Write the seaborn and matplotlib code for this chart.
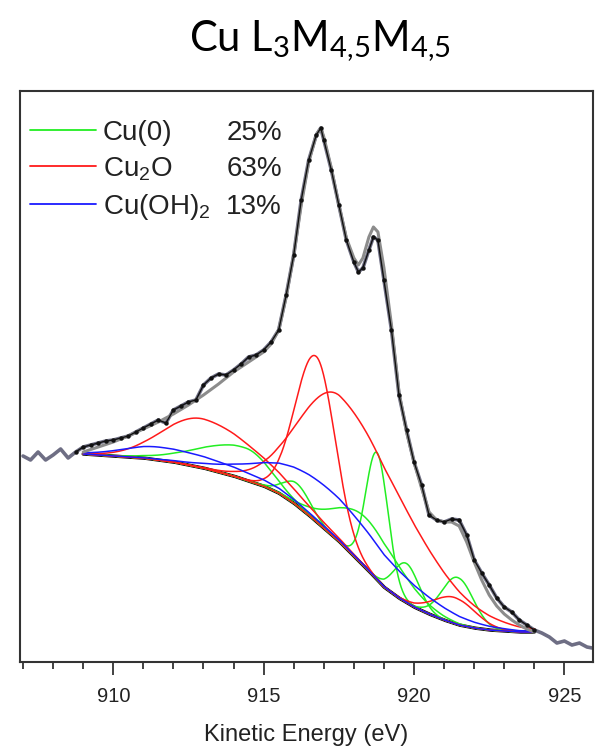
import numpy as np
import pandas as pd
import matplotlib
matplotlib.use("Agg")
import matplotlib.pyplot as plt
from matplotlib.lines import Line2D
import seaborn as sns

# ---------------- data ----------------
energy_data = [907.0, 907.25, 907.5, 907.75, 908.0, 908.25, 908.5, 908.75,
               909.0, 909.25, 909.5, 909.75, 910.0, 910.25, 910.5, 910.75,
               911.0, 911.25, 911.5, 911.75, 912.0, 912.25, 912.5, 912.75,
               913.0, 913.25, 913.5, 913.75, 914.0, 914.25, 914.5, 914.75,
               915.0, 915.25, 915.5, 915.75, 916.0, 916.25, 916.5, 916.75,
               916.9, 917.0, 917.25, 917.5, 917.75, 918.0, 918.15, 918.3,
               918.5, 918.65, 918.8, 919.0, 919.25, 919.5, 919.75, 920.0,
               920.25, 920.5, 920.75, 921.0, 921.25, 921.5, 921.75, 922.0,
               922.25, 922.5, 922.75, 923.0, 923.25, 923.5, 923.75, 924.0,
               924.25, 924.5, 924.75, 925.0, 925.25, 925.5, 925.75, 925.93]
intensity_data = [206, 202, 210, 202, 207, 213, 204, 210,
                  215, 217, 219, 221, 222, 224, 226, 230,
                  234, 238, 242, 239, 252, 256, 260, 262,
                  277, 284, 288, 287, 292, 298, 305, 307,
                  312, 320, 332, 367, 407, 462, 502, 527,
                  534, 522, 492, 457, 422, 400, 390, 394,
                  412, 425, 422, 382, 332, 267, 232, 200,
                  177, 147, 142, 140, 143, 142, 127, 102,
                  89, 77, 64, 55, 50, 42, 37, 32,
                  29, 25, 19, 21, 17, 19, 15, 14]

energy_fit = [909.0, 909.5, 910.0, 910.5, 911.0, 911.5, 912.0, 912.5, 913.0,
              913.5, 914.0, 914.5, 915.0, 915.25, 915.5, 915.75, 916.0, 916.25,
              916.5, 916.75, 916.9, 917.0, 917.25, 917.5, 917.75, 918.0, 918.15,
              918.3, 918.5, 918.65, 918.8, 919.0, 919.25, 919.5, 919.75, 920.0,
              920.25, 920.5, 920.75, 921.0, 921.25, 921.5, 921.75, 922.0, 922.25,
              922.5, 922.75, 923.0, 923.25, 923.5, 923.75, 924.0]
intensity_fit = [210, 215, 220, 226, 233, 240, 248, 257, 267,
                 278, 290, 300, 310, 318, 332, 365, 407, 457,
                 500, 527, 534, 525, 494, 457, 424, 404, 397,
                 404, 425, 435, 430, 394, 337, 270, 230, 200,
                 174, 150, 142, 140, 140, 136, 120, 100, 82,
                 67, 56, 48, 42, 37, 33, 30]

energy_bg = [909.0, 909.5, 910.0, 910.5, 911.0, 911.5, 912.0, 912.5, 913.0,
             913.5, 914.0, 914.5, 915.0, 915.5, 916.0, 916.5, 917.0, 917.5,
             918.0, 918.5, 919.0, 919.5, 920.0, 920.5, 921.0, 921.5, 922.0,
             922.5, 923.0, 923.5, 924.0]
intensity_bg = [208, 207, 206, 205, 204, 202, 200, 197, 194,
                190, 186, 181, 176, 169, 159, 147, 134, 121,
                106, 91, 75, 64, 55, 48, 42, 37, 34,
                32, 31, 30, 30]

# fitted components (peak position, height above background, left / right widths)
cu0_centers = [914.4, 916.1, 918.4, 918.77, 919.75, 921.45]
cu0_heights = [32, 22, 50, 127, 39, 47]
cu0_sig_left = [1.5, 0.45, 1.0, 0.37, 0.42, 0.52]
cu0_sig_right = [0.8, 0.45, 1.15, 0.37, 0.42, 0.52]

cu2o_centers = [912.95, 916.75, 917.55, 921.35]
cu2o_heights = [49, 165, 146, 26]
cu2o_sig_left = [1.3, 0.7, 1.35, 0.7]
cu2o_sig_right = [1.95, 0.62, 2.3, 0.7]

cuoh_centers = [911.6, 917.2]
cuoh_heights = [13, 43]
cuoh_sig_left = [1.2, 2.0]
cuoh_sig_right = [2.8, 2.4]

species = ["Cu(0)", r"Cu$_\mathregular{2}$O", r"Cu(OH)$_\mathregular{2}$"]
percentages = ["25%", "63%", "13%"]
species_colors = ["#22ee22", "#ff1a1a", "#1a1aff"]

x_major_ticks = [910, 915, 920, 925]
title_text = r"Cu L$_\mathregular{3}$M$_\mathregular{4{,}5}$M$_\mathregular{4{,}5}$"
x_label = "Kinetic Energy (eV)"

fit_range = (909.0, 924.0)

# ---------------- styling ----------------
sns.set_theme(style="ticks")
plt.rcParams["font.family"] = ["Liberation Sans", "DejaVu Sans"]

fig = plt.figure(figsize=(6.03, 7.5), dpi=100)
ax = fig.add_axes([0.0332, 0.1173, 0.9502, 0.7614])

grid = np.linspace(fit_range[0], fit_range[1], 1201)
bg_grid = np.interp(grid, energy_bg, intensity_bg)


def component(c, h, sl, sr):
    s = np.where(grid < c, sl, sr)
    return bg_grid + h * np.exp(-0.5 * ((grid - c) / s) ** 2)


# raw data outside the fitted window (grey line)
df_data = pd.DataFrame({"E": energy_data, "I": intensity_data})
sns.lineplot(data=df_data, x="E", y="I", ax=ax, color="#6e6e84",
             linewidth=2.6, estimator=None, sort=False)

# background
sns.lineplot(x=grid, y=bg_grid, ax=ax, color="black", linewidth=2.4,
             estimator=None, sort=False)

groups = [
    (cu0_centers, cu0_heights, cu0_sig_left, cu0_sig_right, species_colors[0]),
    (cu2o_centers, cu2o_heights, cu2o_sig_left, cu2o_sig_right, species_colors[1]),
    (cuoh_centers, cuoh_heights, cuoh_sig_left, cuoh_sig_right, species_colors[2]),
]
for cs, hs, sls, srs, col in groups:
    for c, h, sl, sr in zip(cs, hs, sls, srs):
        sns.lineplot(x=grid, y=component(c, h, sl, sr), ax=ax, color=col,
                     linewidth=1.1, estimator=None, sort=False)

# fit envelope
sns.lineplot(x=energy_fit, y=intensity_fit, ax=ax, color="#8c8c8c",
             linewidth=2.2, estimator=None, sort=False)

# experimental points within the fitted window
inside = df_data[(df_data["E"] >= 908.6) & (df_data["E"] <= 924.2)]
sns.lineplot(data=inside, x="E", y="I", ax=ax, color="#111111", linewidth=1.0,
             marker="o", markersize=3.2, markeredgewidth=0, estimator=None, sort=False)

ax.set_xlim(906.9, 925.95)
ax.set_ylim(0, 571)
ax.set_xticks(x_major_ticks)
ax.set_xticks(np.arange(907, 926, 1), minor=True)
ax.set_yticks([])
ax.set_ylabel("")
ax.set_xlabel(x_label, fontsize=17, labelpad=13, color="#222222")
ax.tick_params(axis="x", which="major", direction="out", length=9, width=1.3,
               labelsize=14.5, pad=9, colors="#333333", labelcolor="#222222")
ax.tick_params(axis="x", which="minor", direction="out", length=5, width=1.3,
               colors="#333333")
for sp in ax.spines.values():
    sp.set_visible(True)
    sp.set_linewidth(1.5)
    sp.set_color("#333333")

# legend
handles = [Line2D([0], [0], color=c, linewidth=1.3) for c in species_colors]
leg = ax.legend(handles, species, loc="upper left", bbox_to_anchor=(0.0, 0.966),
                frameon=False, fontsize=20, handlelength=2.4, handletextpad=0.22,
                labelspacing=0.32, borderaxespad=0.0, borderpad=0.35)
for t in leg.get_texts():
    t.set_color("#222222")

fig.canvas.draw()
inv = ax.transAxes.inverted()
for t, pct in zip(leg.get_texts(), percentages):
    bb = t.get_window_extent()
    ymid = inv.transform((0, (bb.y0 + bb.y1) / 2))[1]
    ax.text(0.457, ymid, pct, transform=ax.transAxes, ha="right", va="center",
            fontsize=20, color="#222222")

fig.text(0.531, 0.945, title_text, ha="center", va="center", fontsize=30,
         family=["Lato", "DejaVu Sans"], color="black")

fig.savefig("out.png", dpi=100)
